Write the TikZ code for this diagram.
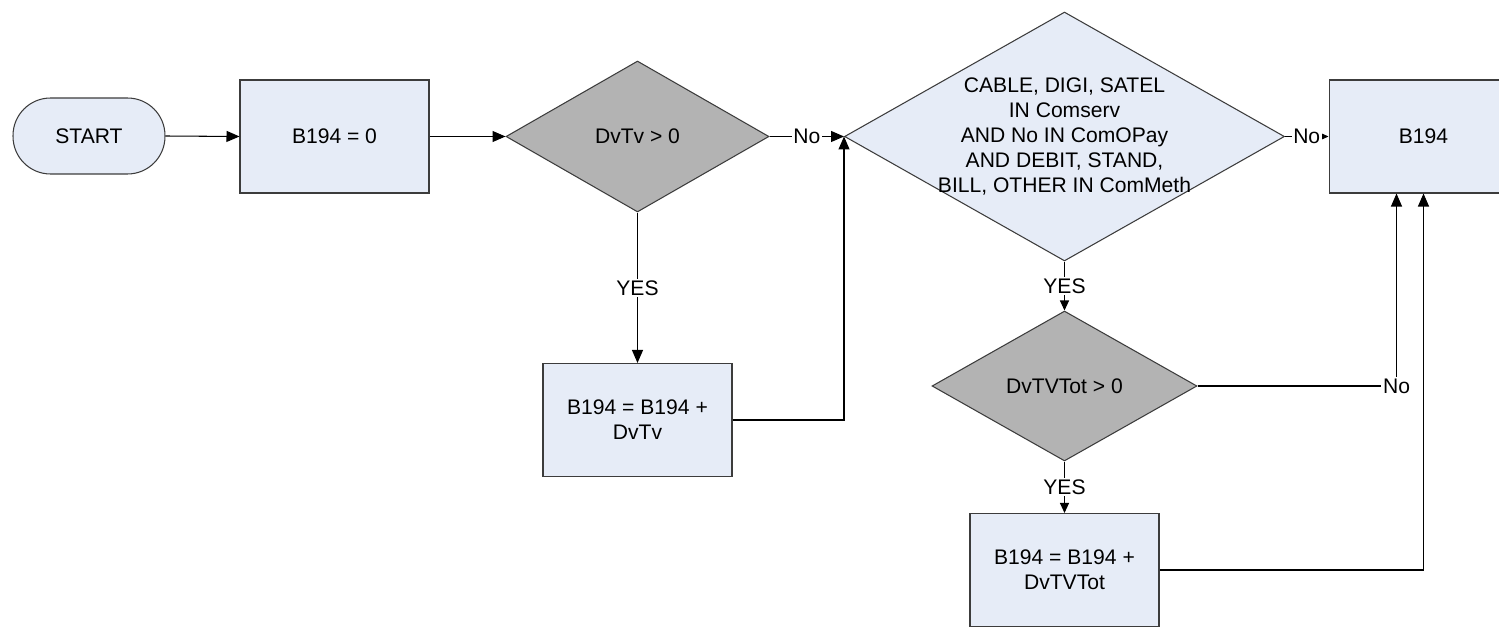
\documentclass[tikz,border=0pt]{standalone}
\usepackage{fontspec}
\setmainfont{Liberation Sans}
\usetikzlibrary{shapes.geometric,arrows.meta}
\definecolor{boxfill}{RGB}{230,236,247}
\definecolor{diafill}{RGB}{179,179,179}
\definecolor{edgecol}{RGB}{60,60,60}
\tikzset{
  base/.style={draw=edgecol, line width=0.6pt, font=\fontsize{12}{14.2}\selectfont, align=center, inner sep=0pt, text=black},
  procbox/.style={base, rectangle, fill=boxfill, minimum width=3.78cm, minimum height=2.26cm},
  termbox/.style={base, rectangle, rounded corners=0.75cm, fill=boxfill, minimum width=3.04cm, minimum height=1.52cm},
  decgray/.style={base, diamond, fill=diafill},
  decblue/.style={base, diamond, fill=boxfill},
  txt/.style={font=\fontsize{12}{14.2}\selectfont, align=center, inner sep=0pt},
  arr/.style={draw=black, line width=0.6pt, -{Triangle[length=0.26cm,width=0.22cm]}},
  arrm/.style={draw=black, line width=0.6pt, -{Triangle[length=0.2cm,width=0.18cm]}},
  arrs/.style={draw=black, line width=0.6pt, -{Triangle[length=0.16cm,width=0.14cm]}},
  lbl/.style={fill=white, inner sep=1pt, font=\fontsize{12}{14}\selectfont},
}
\begin{document}
\begin{tikzpicture}[x=0.02cm,y=-0.02cm]
\useasboundingbox (0,0) rectangle (1499,628);
\clip (0,0) rectangle (1499,628);
\fill[white] (0,0) rectangle (1499,628);
% nodes
\node[termbox] (start) at (89,136) {START};
\node[procbox] (init) at (334.5,136.5) {B194 = 0};
\node[decgray, minimum width=5.26cm, minimum height=3.02cm] (q1) at (637.5,136.5) {DvTv > 0};
\node[procbox] (add1) at (637.5,420) {B194 = B194 +\\DvTv};
\node[decblue, minimum width=8.8cm, minimum height=4.98cm] (q2) at (1064.5,136.5) {};
\node[txt] (q2text) at (q2.center) {CABLE, DIGI, SATEL\\IN Comserv\\AND No IN ComOPay\\AND DEBIT, STAND,\\BILL, OTHER IN ComMeth};
\node[decgray, minimum width=5.3cm, minimum height=3.0cm] (q3) at (1064.5,386) {DvTVTot > 0};
\node[procbox] (add2) at (1064.5,570) {B194 = B194 +\\DvTVTot};
\node[procbox] (res) at (1423.5,136.5) {B194};
% connectors
\draw[arr] (start.east) -- (init.west);
\draw[arr] (init.east) -- (q1.west);
\draw[arr] (q1.east) -- node[lbl]{No} (q2.west);
\draw[arr] (q1.south) -- node[lbl]{YES} (add1.north);
\draw[arr] (add1.east) -| (q2.west);
\draw[arrs] (q2.east) -- node[lbl]{No} (res.west);
\draw[arrm] (q2.south) -- node[lbl]{YES} (q3.north);
\draw[arrm] (q3.south) -- node[lbl]{YES} (add2.north);
\draw[arr] (q3.east) -| node[lbl]{No} ([xshift=-0.54cm]res.south);
\draw[arr] (add2.east) -| (res.south);
\end{tikzpicture}
\end{document}
